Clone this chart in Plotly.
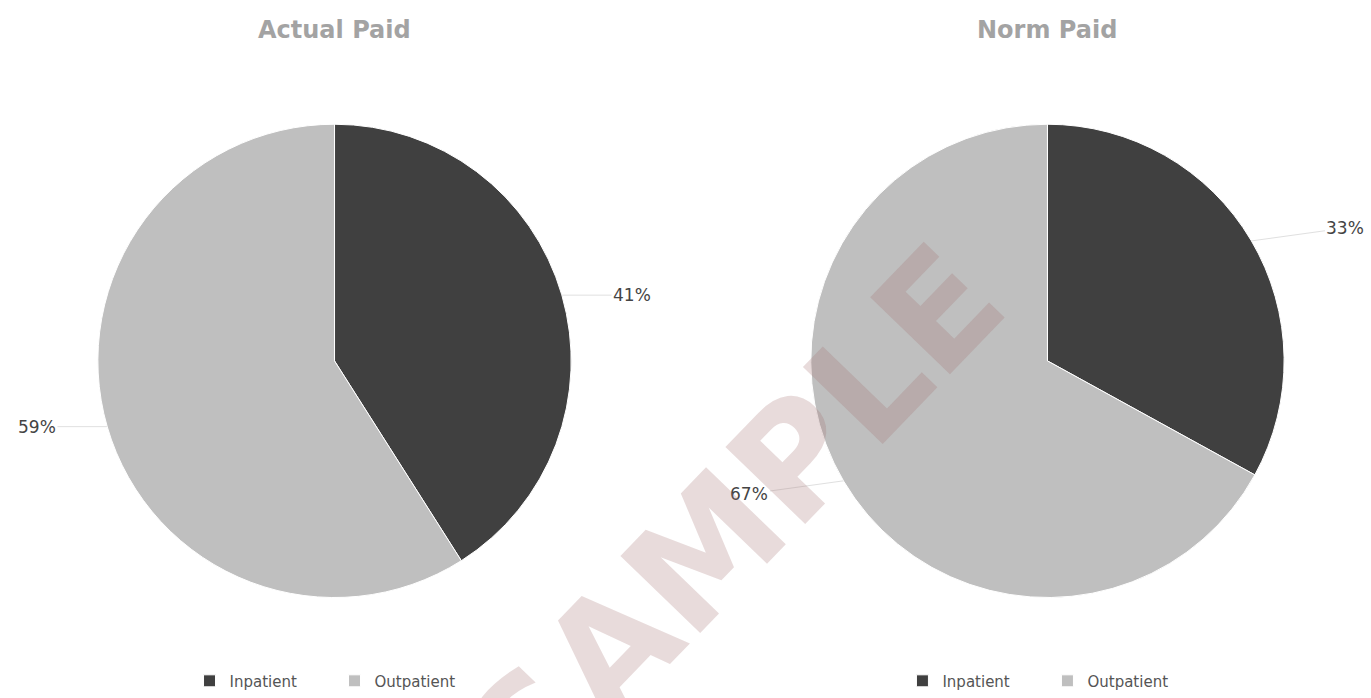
import math
import plotly.graph_objects as go

# Paid amounts split by care setting (percent of total)
categories = ["Inpatient", "Outpatient"]
actual_paid = [41, 59]
norm_paid = [33, 67]
chart_titles = ["Actual Paid", "Norm Paid"]

colors = ["#404040", "#bfbfbf"]

W, H = 1371, 698
DOM_Y = [0.139, 0.821]
DOM_X = [[0.07, 0.418], [0.59, 0.938]]

fig = go.Figure()

pie_common = dict(
    sort=False,
    direction="clockwise",
    rotation=0,
    marker=dict(colors=colors, line=dict(color="#ffffff", width=1)),
    textinfo="none",
    hoverinfo="label+percent",
)

# legend entries are keyed by label, so the second pie gets an invisible suffix
# to keep its own legend
fig.add_trace(go.Pie(
    labels=categories,
    values=actual_paid,
    name=chart_titles[0],
    domain=dict(x=DOM_X[0], y=DOM_Y),
    legend="legend",
    **pie_common,
))
fig.add_trace(go.Pie(
    labels=[c + "\u200b" for c in categories],
    values=norm_paid,
    name=chart_titles[1],
    domain=dict(x=DOM_X[1], y=DOM_Y),
    legend="legend2",
    **pie_common,
))

legend_style = dict(
    orientation="h",
    yanchor="middle",
    xanchor="center",
    font=dict(family="DejaVu Sans", size=15, color="#555555"),
    bgcolor="rgba(0,0,0,0)",
    entrywidth=100,
    entrywidthmode="pixels",
    itemclick=False,
)

annotations = []

# percentage labels with leader lines, placed from each slice's mid angle
label_offsets = [(70, 0), (94, 13)]
for i, values in enumerate([actual_paid, norm_paid]):
    cx = (DOM_X[i][0] + DOM_X[i][1]) / 2 * W
    cy = (1 - (DOM_Y[0] + DOM_Y[1]) / 2) * H
    r = (DOM_Y[1] - DOM_Y[0]) * H / 2 - 1
    total = sum(values)
    start = 0.0
    dx, dy = label_offsets[i]
    for v in values:
        mid = (start + v / 2) / total * 2 * math.pi
        start += v
        ex = cx + r * math.sin(mid)
        ey = cy - r * math.cos(mid)
        side = 1 if math.sin(mid) >= 0 else -1
        annotations.append(dict(
            text=f"{v}%", x=ex / W, y=1 - ey / H, xref="paper", yref="paper",
            ax=side * dx, ay=(-dy if side > 0 else dy),
            showarrow=True, arrowhead=0, arrowwidth=1, arrowcolor="#e0e0e0",
            standoff=0, startstandoff=0,
            font=dict(family="DejaVu Sans", size=17, color="#444444"),
        ))

for i, title in enumerate(chart_titles):
    annotations.append(dict(
        text=f"<b>{title}</b>", x=(DOM_X[i][0] + DOM_X[i][1]) / 2, y=1 - 30 / H,
        xref="paper", yref="paper", xanchor="center", yanchor="middle",
        showarrow=False, font=dict(family="DejaVu Sans", size=24, color="#a3a3a3"),
    ))

# watermark
annotations.append(dict(
    text="<b>SAMPLE</b>", x=735 / W, y=1 - 525 / H, xref="paper", yref="paper",
    xanchor="center", yanchor="middle",
    showarrow=False, textangle=-46,
    font=dict(family="DejaVu Sans", size=152, color="rgba(165,110,110,0.25)"),
))

fig.update_layout(
    width=W,
    height=H,
    margin=dict(l=0, r=0, t=0, b=0),
    paper_bgcolor="#ffffff",
    plot_bgcolor="#ffffff",
    legend=dict(x=(DOM_X[0][0] + DOM_X[0][1]) / 2, y=1 - 685 / H, **legend_style),
    legend2=dict(x=(DOM_X[1][0] + DOM_X[1][1]) / 2, y=1 - 685 / H, **legend_style),
    annotations=annotations,
)

fig.write_html("out.html")
